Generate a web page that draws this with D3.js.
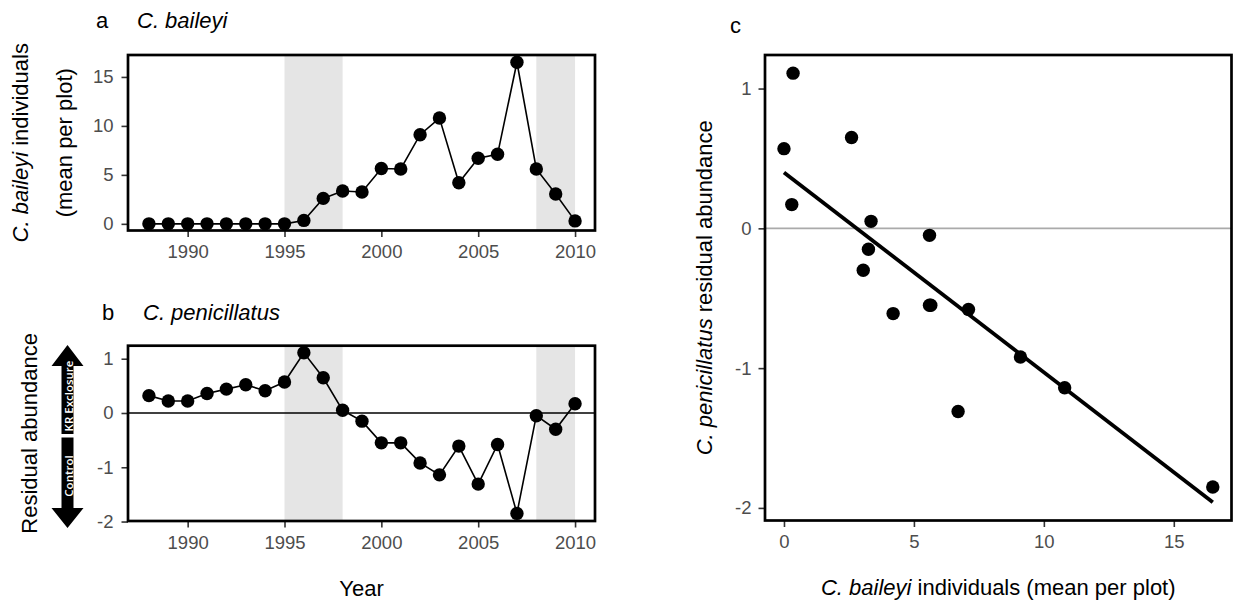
<!DOCTYPE html>
<html>
<head>
<meta charset="utf-8">
<script src="https://cdn.jsdelivr.net/npm/d3@7"></script>
<style>
  html, body { margin: 0; padding: 0; background: #fff; }
  svg { display: block; font-family: "Liberation Sans", Arial, sans-serif; }
</style>
</head>
<body>
<svg id="chart" width="1236" height="606"></svg>
<script>
// ---------- data ----------
const years = [1988,1989,1990,1991,1992,1993,1994,1995,1996,1997,1998,1999,2000,2001,2002,2003,2004,2005,2006,2007,2008,2009,2010];
const baileyi = [0,0,0,0,0,0,0,0,0.35,2.6,3.35,3.25,5.65,5.6,9.1,10.8,4.2,6.7,7.1,16.5,5.6,3.05,0.3];
const penicillatus = [0.32,0.22,0.22,0.36,0.44,0.52,0.41,0.57,1.11,0.65,0.05,-0.15,-0.55,-0.55,-0.92,-1.14,-0.61,-1.31,-0.58,-1.85,-0.05,-0.30,0.17];
const shadeStart = [1995, 2008];
const shadeEnd = [1998, 2010];
const scatterFromYear = 1995;
const fitX = [0, 16.5];
const fitY = [0.40, -1.96];
const yearTicks = [1990, 1995, 2000, 2005, 2010];
const aTicksY = [0, 5, 10, 15];
const bTicksY = [-2, -1, 0, 1];
const cTicksX = [0, 5, 10, 15];
const cTicksY = [-2, -1, 0, 1];

// ---------- setup ----------
const svg = d3.select("#chart");
const TICK_COL = "#333333", LABEL_COL = "#4d4d4d", SHADE = "#e5e5e5";
const R = 6.7;

function styleAxis(g) {
  g.select(".domain").remove();
  g.selectAll(".tick line").attr("stroke", TICK_COL).attr("stroke-width", 1.6);
  g.selectAll(".tick text").attr("fill", LABEL_COL).style("font-size", "18.5px")
    .style("font-family", '"Liberation Sans", Arial, sans-serif');
}

function panel(opts) {
  const { x, y, xTicks, yTicks, box } = opts;
  const g = svg.append("g");
  // shading
  if (opts.shade) {
    g.selectAll("rect.shade").data(shadeStart).enter().append("rect")
      .attr("x", (d) => x(d))
      .attr("width", (d, i) => x(shadeEnd[i]) - x(d))
      .attr("y", box.top).attr("height", box.bottom - box.top)
      .attr("fill", SHADE);
  }
  // axes
  g.append("g").attr("transform", `translate(0,${box.bottom})`)
    .call(d3.axisBottom(x).tickValues(xTicks).tickSize(6.5).tickSizeOuter(0).tickPadding(8).tickFormat(d => String(d)))
    .call(styleAxis);
  g.append("g").attr("transform", `translate(${box.left},0)`)
    .call(d3.axisLeft(y).tickValues(yTicks).tickSize(6.5).tickSizeOuter(0).tickPadding(opts.yPad || 8).tickFormat(d => String(d)))
    .call(styleAxis);
  return g;
}

// ---------- panel a ----------
const boxA = { left: 128, right: 595, top: 55, bottom: 230.5 };
const xA = d3.scaleLinear().domain([1986.92, 2011.03]).range([boxA.left, boxA.right]);
const yA = d3.scaleLinear().domain([-0.68, 17.24]).range([boxA.bottom, boxA.top]);
const gA = panel({ x: xA, y: yA, xTicks: yearTicks, yTicks: aTicksY, box: boxA, shade: true });
const seriesA = years.map((yr, i) => ({ yr, v: baileyi[i] }));
gA.append("path").datum(seriesA)
  .attr("d", d3.line().x(d => xA(d.yr)).y(d => yA(d.v)))
  .attr("fill", "none").attr("stroke", "#000").attr("stroke-width", 1.6);
gA.selectAll("circle").data(seriesA).enter().append("circle")
  .attr("cx", d => xA(d.yr)).attr("cy", d => yA(d.v)).attr("r", R).attr("fill", "#000");
gA.append("rect").attr("x", boxA.left).attr("y", boxA.top)
  .attr("width", boxA.right - boxA.left).attr("height", boxA.bottom - boxA.top)
  .attr("fill", "none").attr("stroke", "#000").attr("stroke-width", 2.7);

// ---------- panel b ----------
const boxB = { left: 128, right: 595, top: 345.7, bottom: 521 };
const xB = d3.scaleLinear().domain([1986.92, 2011.03]).range([boxB.left, boxB.right]);
const yB = d3.scaleLinear().domain([-1.99, 1.24]).range([boxB.bottom, boxB.top]);
const gB = panel({ x: xB, y: yB, xTicks: yearTicks, yTicks: bTicksY, box: boxB, shade: true });
gB.append("line").attr("x1", boxB.left).attr("x2", boxB.right)
  .attr("y1", yB(0)).attr("y2", yB(0)).attr("stroke", "#000").attr("stroke-width", 1.6);
const seriesB = years.map((yr, i) => ({ yr, v: penicillatus[i] }));
gB.append("path").datum(seriesB)
  .attr("d", d3.line().x(d => xB(d.yr)).y(d => yB(d.v)))
  .attr("fill", "none").attr("stroke", "#000").attr("stroke-width", 1.6);
gB.selectAll("circle").data(seriesB).enter().append("circle")
  .attr("cx", d => xB(d.yr)).attr("cy", d => yB(d.v)).attr("r", R).attr("fill", "#000");
gB.append("rect").attr("x", boxB.left).attr("y", boxB.top)
  .attr("width", boxB.right - boxB.left).attr("height", boxB.bottom - boxB.top)
  .attr("fill", "none").attr("stroke", "#000").attr("stroke-width", 2.7);

// ---------- panel c ----------
const boxC = { left: 765, right: 1231.5, top: 55, bottom: 520.5 };
const xC = d3.scaleLinear().domain([-0.73, 17.22]).range([boxC.left, boxC.right]);
const yC = d3.scaleLinear().domain([-2.09, 1.24]).range([boxC.bottom, boxC.top]);
const gC = panel({ x: xC, y: yC, xTicks: cTicksX, yTicks: cTicksY, box: boxC, shade: false, yPad: 7 });
gC.append("line").attr("x1", boxC.left).attr("x2", boxC.right)
  .attr("y1", yC(0)).attr("y2", yC(0)).attr("stroke", "#aaaaaa").attr("stroke-width", 1.8);
const scatter = years.map((yr, i) => ({ yr, x: baileyi[i], y: penicillatus[i] })).filter(d => d.yr >= scatterFromYear);
gC.selectAll("circle").data(scatter).enter().append("circle")
  .attr("cx", d => xC(d.x)).attr("cy", d => yC(d.y)).attr("r", R).attr("fill", "#000");
gC.append("path").datum(fitX.map((v, i) => [v, fitY[i]]))
  .attr("d", d3.line().x(d => xC(d[0])).y(d => yC(d[1])))
  .attr("fill", "none").attr("stroke", "#000").attr("stroke-width", 3.8);
gC.append("rect").attr("x", boxC.left).attr("y", boxC.top)
  .attr("width", boxC.right - boxC.left).attr("height", boxC.bottom - boxC.top)
  .attr("fill", "none").attr("stroke", "#000").attr("stroke-width", 2.7);

// ---------- titles & labels ----------
const T = 22;
function title(x, yb, letter, italicText, italicX) {
  svg.append("text").attr("x", x).attr("y", yb).style("font-size", T + "px").attr("fill", "#000").text(letter);
  if (italicText) svg.append("text").attr("x", italicX).attr("y", yb).style("font-size", T + "px")
    .style("font-style", "italic").attr("fill", "#000").text(italicText);
}
title(96, 28, "a", "C. baileyi", 137);
title(102, 320, "b", "C. penicillatus", 143);
title(730, 33, "c");

// panel a y label (two lines)
const cyA = (boxA.top + boxA.bottom) / 2;
const la1 = svg.append("text").attr("transform", `translate(28,${cyA}) rotate(-90)`)
  .attr("text-anchor", "middle").style("font-size", T + "px").attr("fill", "#000");
la1.append("tspan").style("font-style", "italic").text("C. baileyi");
la1.append("tspan").text(" individuals");
svg.append("text").attr("transform", `translate(72,${cyA}) rotate(-90)`)
  .attr("text-anchor", "middle").style("font-size", T + "px").attr("fill", "#000").text("(mean per plot)");

// panel b y label
const cyB = (boxB.top + boxB.bottom) / 2;
svg.append("text").attr("transform", `translate(37,${cyB}) rotate(-90)`)
  .attr("text-anchor", "middle").style("font-size", T + "px").attr("fill", "#000").text("Residual abundance");

// double arrow
const ax = 67.5, headHalf = 16, shaftHalf = 6;
const arrowUp = [[ax, 345], [ax + headHalf, 366], [ax + shaftHalf, 366], [ax + shaftHalf, 434], [ax - shaftHalf, 434], [ax - shaftHalf, 366], [ax - headHalf, 366]];
const arrowDown = [[ax - shaftHalf, 437.5], [ax + shaftHalf, 437.5], [ax + shaftHalf, 508], [ax + headHalf, 508], [ax, 528], [ax - headHalf, 508], [ax - shaftHalf, 508]];
[arrowUp, arrowDown].forEach(p => svg.append("path").attr("d", d3.line()(p) + "Z").attr("fill", "#000"));
svg.append("text").attr("transform", `translate(${ax + 0.5},396) rotate(-90)`)
  .attr("text-anchor", "middle").attr("dominant-baseline", "central")
  .style("font-family", '"Open Sans", sans-serif').style("font-size", "11.5px").style("font-weight", 600)
  .attr("fill", "#fff").text("KR Exclosure");
svg.append("text").attr("transform", `translate(${ax + 0.5},476) rotate(-90)`)
  .attr("text-anchor", "middle").attr("dominant-baseline", "central")
  .style("font-family", '"Open Sans", sans-serif').style("font-size", "11.5px").style("font-weight", 600)
  .attr("fill", "#fff").text("Control");

// Year label
svg.append("text").attr("x", (boxB.left + boxB.right) / 2).attr("y", 596)
  .attr("text-anchor", "middle").style("font-size", T + "px").attr("fill", "#000").text("Year");

// panel c labels
const cyC = (boxC.top + boxC.bottom) / 2;
const lc = svg.append("text").attr("transform", `translate(712,${cyC}) rotate(-90)`)
  .attr("text-anchor", "middle").style("font-size", T + "px").attr("fill", "#000");
lc.append("tspan").style("font-style", "italic").text("C. penicillatus");
lc.append("tspan").text(" residual abundance");
const lcx = svg.append("text").attr("x", (boxC.left + boxC.right) / 2).attr("y", 595)
  .attr("text-anchor", "middle").style("font-size", T + "px").attr("fill", "#000");
lcx.append("tspan").style("font-style", "italic").text("C. baileyi");
lcx.append("tspan").text(" individuals (mean per plot)");
</script>
</body>
</html>
